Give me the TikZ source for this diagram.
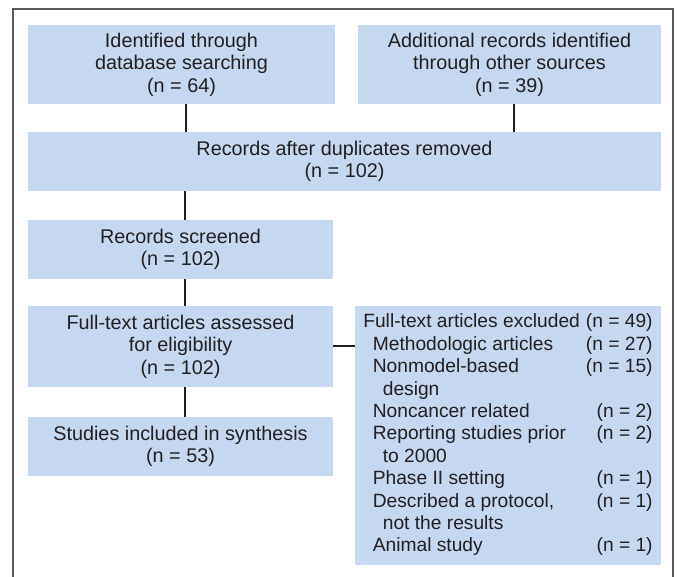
\documentclass[tikz,border=0pt]{standalone}
\usepackage{fontspec}
\setmainfont{Liberation Sans}
\definecolor{boxblue}{HTML}{C6D8EF}
\definecolor{txt}{HTML}{231F20}
\definecolor{framegray}{HTML}{5A5A5A}
\tikzset{
  flowbox/.style={fill=boxblue, draw=none, inner sep=0pt, align=center,
    text=txt, font=\fontsize{19.8}{22.5}\selectfont},
  link/.style={draw=txt, line width=2pt},
}
\begin{document}
\begin{tikzpicture}[x=1pt,y=-1pt]
\useasboundingbox (0,0) rectangle (681,577);
\fill[white] (0,0) rectangle (681,577);
\draw[framegray, line width=1.5pt] (13,577) -- (13,9) -- (673,9) -- (673,577);

\node[flowbox, minimum width=307pt, minimum height=79pt] (b1) at (181.5,64.5)
  {Identified through\\database searching\\(n = 64)};
\node[flowbox, minimum width=303pt, minimum height=79pt] (b2) at (509.5,64.5)
  {Additional records identified\\through other sources\\(n = 39)};
\node[flowbox, minimum width=633pt, minimum height=59pt] (b3) at (344.5,161.5)
  {Records after duplicates removed\\(n = 102)};
\node[flowbox, minimum width=305pt, minimum height=59pt] (b4) at (180.5,249.5)
  {Records screened\\(n = 102)};
\node[flowbox, minimum width=305pt, minimum height=81pt] (b5) at (180.5,346.5)
  {Full-text articles assessed\\for eligibility\\(n = 102)};
\node[flowbox, minimum width=305pt, minimum height=59pt] (b6) at (180.5,446.5)
  {Studies included in synthesis\\(n = 53)};
\node[flowbox, minimum width=306pt, minimum height=259pt, align=left,
  font=\fontsize{19.2}{22.4}\selectfont] (ex) at (508,435.5)
  {\begin{tabular}{@{}l@{\hspace{6pt}}r@{}}
   Full-text articles excluded & (n = 49)\\
   \hspace{9.5pt}Methodologic articles & (n = 27)\\
   \hspace{9.5pt}Nonmodel-based & (n = 15)\\
   \hspace{19.5pt}design & \\
   \hspace{9.5pt}Noncancer related & (n = 2)\\
   \hspace{9.5pt}Reporting studies prior & (n = 2)\\
   \hspace{19.5pt}to 2000 & \\
   \hspace{9.5pt}Phase II setting & (n = 1)\\
   \hspace{9.5pt}Described a protocol, & (n = 1)\\
   \hspace{19.5pt}not the results & \\
   \hspace{9.5pt}Animal study & (n = 1)
   \end{tabular}};

\draw[link] ([xshift=4pt]b1.south) -- ([xshift=4pt]b1.south |- b3.north);
\draw[link] ([xshift=4pt]b2.south) -- ([xshift=4pt]b2.south |- b3.north);
\draw[link] ([xshift=4pt]b4.north |- b3.south) -- ([xshift=4pt]b4.north);
\draw[link] ([xshift=4pt]b4.south) -- ([xshift=4pt]b5.north);
\draw[link] ([xshift=4pt]b5.south) -- ([xshift=4pt]b6.north);
\draw[link] (b5.east) -- (b5.east -| ex.west);
\end{tikzpicture}
\end{document}
